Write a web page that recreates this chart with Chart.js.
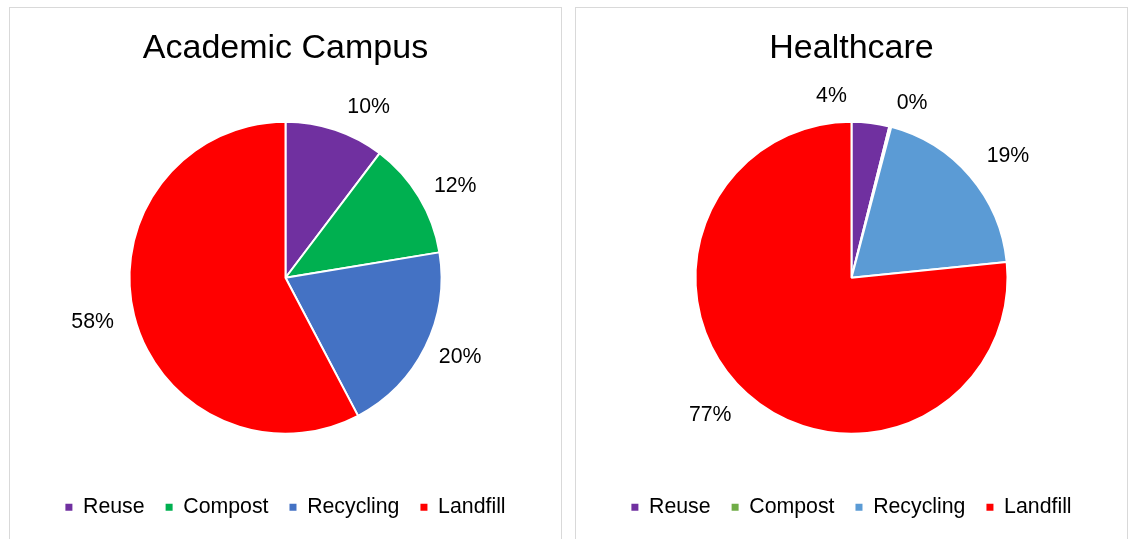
<!DOCTYPE html>
<html>
<head>
<meta charset="utf-8">
<script src="https://cdn.jsdelivr.net/npm/chart.js@4"></script>
<style>
    html, body { margin: 0; padding: 0; background: #fff; overflow: hidden; }
    .box {
        position: absolute;
        top: 7px;
        width: 551px;
        height: 532px;
        border: 1px solid #d9d9d9;
    }
    #boxA { left: 9px; }
    #boxB { left: 575px; }
</style>
</head>
<body>
<div class="box" id="boxA"><canvas id="academicChart"></canvas></div>
<div class="box" id="boxB"><canvas id="healthChart"></canvas></div>

<script>
const categories = ['Reuse', 'Compost', 'Recycling', 'Landfill'];
const academicValues = [10.3, 12.1, 19.9, 57.7];   // percent of waste
const healthcareValues = [3.9, 0.2, 19.3, 76.6];

const academicColors = ['#7030A0', '#00B050', '#4472C4', '#FF0000'];
const healthcareColors = ['#7030A0', '#70AD47', '#5B9BD5', '#FF0000'];

const FONT = "'Liberation Sans', Arial, sans-serif";

// draws the % labels just outside each slice
const outsideLabels = {
    id: 'outsideLabels',
    afterDatasetsDraw(chart, args, opts) {
        const ctx = chart.ctx;
        const meta = chart.getDatasetMeta(0);
        const values = chart.data.datasets[0].data;
        ctx.save();
        ctx.font = opts.size + 'px ' + FONT;
        ctx.fillStyle = '#000';
        ctx.textAlign = 'center';
        ctx.textBaseline = 'middle';
        meta.data.forEach((arc, i) => {
            const nudge = opts.nudges[i] || [0, 36];
            const mid = (arc.startAngle + arc.endAngle) / 2 + nudge[0] * Math.PI / 180;
            const dist = arc.outerRadius + nudge[1];
            const x = arc.x + Math.cos(mid) * dist;
            const y = arc.y + Math.sin(mid) * dist;
            ctx.fillText(Math.round(values[i]) + '%', x, y);
        });
        ctx.restore();
    }
};

function makePie(canvasId, title, values, colors, nudges) {
    const ctx = document.getElementById(canvasId).getContext('2d');
    return new Chart(ctx, {
        type: 'pie',
        data: {
            labels: categories,
            datasets: [{
                data: values,
                backgroundColor: colors,
                borderColor: '#ffffff',
                borderWidth: 2,
                radius: 156
            }]
        },
        options: {
            responsive: true,
            maintainAspectRatio: false,
            animation: false,
            layout: { padding: { bottom: 12 } },
            plugins: {
                title: {
                    display: true,
                    text: title,
                    color: '#000',
                    font: { family: FONT, size: 34, weight: 'normal' },
                    padding: { top: 20, bottom: 11 }
                },
                legend: {
                    position: 'bottom',
                    labels: {
                        color: '#000',
                        font: { family: FONT, size: 21.3 },
                        usePointStyle: true,
                        pointStyle: 'rect',
                        boxWidth: 7,
                        boxHeight: 7,
                        padding: 21,
                        generateLabels(chart) {
                            const items = Chart.overrides.pie.plugins.legend.labels.generateLabels(chart);
                            items.forEach(it => {
                                it.strokeStyle = it.fillStyle;
                                it.lineWidth = 0;
                            });
                            return items;
                        }
                    }
                },
                tooltip: { enabled: false },
                outsideLabels: { size: 21.3, nudges: nudges }
            }
        },
        plugins: [outsideLabels]
    });
}

makePie('academicChart', 'Academic Campus', academicValues, academicColors,
    [[7.4, 34], [2.7, 37], [-1.9, 36], [0.8, 42]]);
makePie('healthChart', 'Healthcare', healthcareValues, healthcareColors,
    [[-13.3, 27], [4.7, 29], [2.7, 42], [3.7, 41]]);
</script>
</body>
</html>
